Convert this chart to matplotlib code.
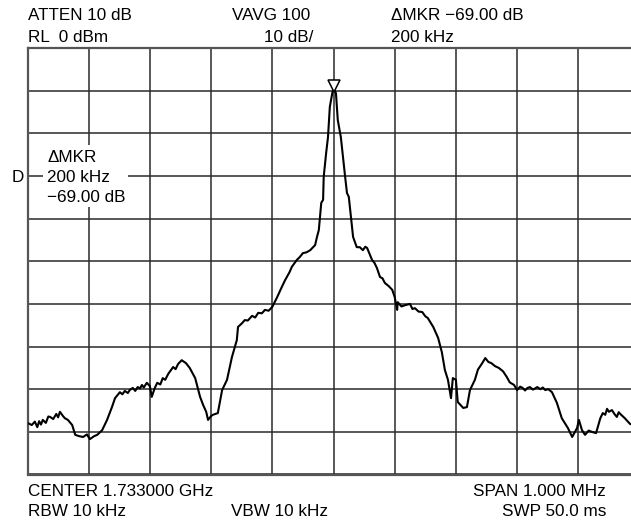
import matplotlib
matplotlib.use("Agg")
import matplotlib.pyplot as plt
from matplotlib.patches import Rectangle

plt.rcParams['font.family'] = ['Liberation Sans', 'DejaVu Sans']

# trace as (offset from centre in kHz, level in dBm)
left_skirt = [(-500, -87.9), (-493, -88.4), (-488, -87.6), (-484, -88.9), (-481, -87.5),
              (-478, -88.3), (-475, -87.2), (-470, -87.9), (-466, -86.4), (-463, -86.5),
              (-458, -87.0), (-453, -85.8), (-450, -86.6), (-447, -85.3), (-442, -86.3),
              (-439, -86.8), (-434, -87.2), (-427, -88.4), (-422, -90.7), (-416, -91.0),
              (-409, -91.2), (-403, -90.6), (-398, -91.7), (-391, -91.0), (-386, -90.7),
              (-378, -89.6), (-370, -87.2), (-362, -84.2), (-357, -82.1), (-349, -80.7),
              (-345, -81.2), (-341, -80.4), (-336, -80.9), (-333, -80.2), (-328, -79.7),
              (-324, -80.4), (-320, -79.5), (-316, -79.8), (-313, -79.0), (-310, -79.6),
              (-305, -78.5), (-300, -79.3), (-297, -81.8), (-292, -79.7), (-288, -78.5),
              (-283, -78.9), (-279, -77.4), (-275, -77.8), (-270, -76.4), (-266, -75.6),
              (-262, -74.8), (-258, -75.3), (-254, -74.1), (-248, -73.2), (-241, -73.9),
              (-235, -75.0), (-226, -77.4), (-218, -81.8), (-213, -83.7), (-208, -85.3),
              (-205, -87.2), (-200, -86.3), (-197, -86.0), (-189, -85.6), (-182, -80.2),
              (-174, -77.8), (-166, -72.5), (-160, -69.5), (-158, -68.5), (-156, -65.4),
              (-150, -64.6), (-145, -63.8), (-140, -63.9), (-133, -62.8), (-128, -63.2),
              (-123, -62.1), (-117, -62.2), (-112, -61.4), (-106, -61.6), (-100, -60.7),
              (-92, -58.4), (-85, -56.2), (-79, -54.4), (-72, -52.6), (-68, -51.3),
              (-60, -49.7), (-55, -49.0), (-50, -48.1), (-44, -47.9), (-38, -47.4),
              (-30, -46.2)]
carrier = [(-27, -44.3), (-24, -42.7), (-20, -36.3), (-17, -35.6), (-16, -30.2),
           (-12, -24.6), (-9, -20.9), (-6, -13.8), (-2, -10.6), (0, -9.4),
           (4, -10.6), (7, -16.9), (12, -20.9), (16, -26.3), (19, -30.2),
           (22, -34.0), (25, -34.9), (29, -40.3), (32, -44.3), (38, -46.7)]
right_skirt = [(43, -46.7), (48, -47.4), (52, -46.6), (55, -46.9), (63, -49.7),
               (67, -50.4), (71, -51.6), (76, -53.7), (80, -54.0), (84, -55.1),
               (90, -55.8), (96, -56.7), (100, -58.4), (104, -61.4), (105, -59.6),
               (111, -60.6), (117, -60.3), (125, -60.0), (129, -61.2), (133, -61.0),
               (139, -61.8), (145, -61.9), (150, -62.9), (154, -63.3), (163, -65.4),
               (171, -68.0), (177, -71.3), (182, -75.5), (187, -77.8), (192, -82.1),
               (195, -77.4), (200, -77.8), (203, -83.0), (212, -84.4), (218, -84.2),
               (223, -80.2), (231, -77.8), (236, -75.4), (243, -73.9), (248, -72.7),
               (253, -73.6), (258, -73.9), (264, -74.6), (270, -75.0), (277, -75.8),
               (283, -77.1), (288, -78.4), (295, -79.0), (300, -80.2), (305, -79.4),
               (309, -79.7), (313, -80.3), (317, -79.7), (321, -79.5), (326, -80.1),
               (333, -79.5), (338, -80.0), (342, -79.6), (346, -80.2), (351, -80.0),
               (357, -80.7), (365, -83.2), (373, -86.8), (383, -89.1), (390, -91.2),
               (398, -89.1), (401, -87.2), (406, -89.6), (411, -90.7), (417, -89.7),
               (422, -90.0), (429, -90.3), (436, -86.8), (440, -85.6), (444, -86.0),
               (447, -84.6), (450, -85.3), (455, -84.9), (459, -85.8), (463, -86.5),
               (466, -85.4), (470, -86.0), (476, -86.8), (481, -87.6), (485, -88.2),
               (500, -88.0)]

marker_khz = 0
marker_dbm = -8.9

top_left = ["ATTEN 10 dB", "RL  0 dBm"]
top_mid = ["VAVG 100", "10 dB/"]
top_right = ["\u0394MKR \u221269.00 dB", "200 kHz"]
mkr_box = ["\u0394MKR", "200 kHz", "\u221269.00 dB"]
bottom_left = ["CENTER 1.733000 GHz", "RBW 10 kHz"]
bottom_mid = "VBW 10 kHz"
bottom_right = ["SPAN 1.000 MHz", "SWP 50.0 ms"]

trace = left_skirt + carrier + right_skirt
freq_khz = [p[0] for p in trace]
level_dbm = [p[1] for p in trace]

W, H = 631, 527
fig = plt.figure(figsize=(W / 100, H / 100), dpi=100)
fig.patch.set_facecolor('white')

ax = fig.add_axes([27.5 / W, 1 - 474.5 / H, 612 / W, 426.5 / H])
ax.set_xlim(-500, 500)
ax.set_ylim(-100, 0)
ax.set_xticks(range(-500, 501, 100))
ax.set_yticks(range(-100, 1, 10))
ax.tick_params(length=0, labelbottom=False, labelleft=False)
ax.grid(True, color='#2a2a2a', linewidth=1.1)
for sp in ax.spines.values():
    sp.set_color('#555555')
    sp.set_linewidth(1.6)

ax.plot(freq_khz, level_dbm, color='black', linewidth=1.5, zorder=3)
ax.plot([marker_khz], [marker_dbm], marker='v', markersize=8.5,
        markerfacecolor='white', markeredgecolor='black', markeredgewidth=1.1,
        linestyle='none', zorder=4)

# white patch behind the marker readout, cuts the grid like the screen does
ax.add_patch(Rectangle(((43 - 27.5) / 612, (474.5 - 207) / 426.5), 85 / 612, 62 / 426.5,
                       transform=ax.transAxes, facecolor='white', edgecolor='none', zorder=2))
for i, s in enumerate(mkr_box):
    ax.text((47 - 27.5) / 612, (474.5 - (157 + 20.5 * i)) / 426.5, s,
            transform=ax.transAxes, fontsize=12.3, ha='left', va='center', zorder=5)

fs = 12.3
def ftext(px, py, s, ha='left'):
    fig.text(px / W, 1 - py / H, s, fontsize=fs, ha=ha, va='center')

ftext(17.5, 178, "D", ha='center')
ftext(28, 16, top_left[0])
ftext(28, 38, top_left[1])
ftext(232, 16, top_mid[0])
ftext(313, 38, top_mid[1], ha='right')
ftext(391, 16, top_right[0])
ftext(391, 38, top_right[1])
ftext(28, 491, bottom_left[0])
ftext(28, 512, bottom_left[1])
ftext(231, 512, bottom_mid)
ftext(606, 491, bottom_right[0], ha='right')
ftext(606, 512, bottom_right[1], ha='right')

fig.savefig("out.png", dpi=100)
